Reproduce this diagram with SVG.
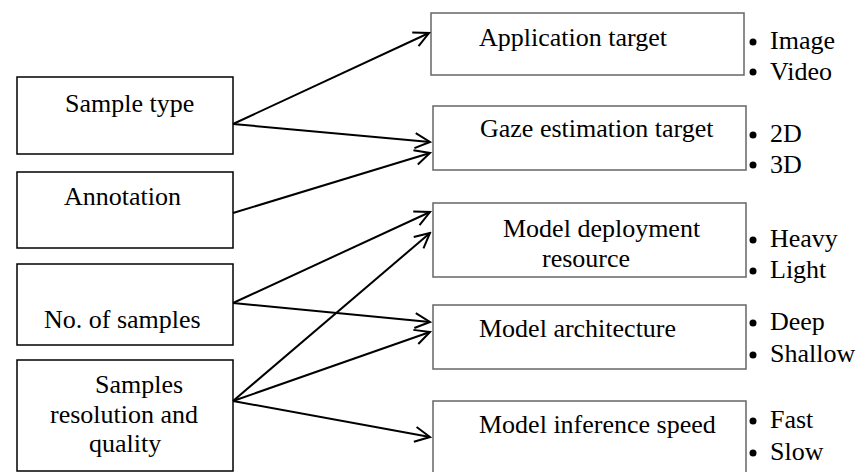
<svg xmlns="http://www.w3.org/2000/svg" width="858" height="472" viewBox="0 0 858 472" font-family="'Liberation Serif', 'DejaVu Serif', serif">
  <defs>
    <marker id="arrow" viewBox="-16 -9 18 18" refX="0" refY="0" markerWidth="18" markerHeight="18" markerUnits="userSpaceOnUse" orient="auto">
      <path d="M-15,-7.5 L0,0 L-15,7.5" fill="none" stroke="#000" stroke-width="2"/>
    </marker>
  </defs>
  <style>
    text { font-family: 'Liberation Serif', 'DejaVu Serif', serif; font-size: 26px; fill: #000; }
    .src { fill: #fff; stroke: #000; stroke-width: 1.5; }
    .dst { fill: #fff; stroke: #666; stroke-width: 1.5; }
    .link { stroke: #000; stroke-width: 2; fill: none; marker-end: url(#arrow); }
    .dot { fill: #000; }
  </style>
  <rect width="858" height="472" fill="#fff"/>

  <!-- input factors -->
  <g id="sample-type">
    <rect class="src" x="17" y="77" width="216" height="77"/>
    <text x="65" y="112">Sample type</text>
  </g>
  <g id="annotation">
    <rect class="src" x="17" y="172" width="216" height="76"/>
    <text x="64" y="205">Annotation</text>
  </g>
  <g id="num-samples">
    <rect class="src" x="17" y="264" width="216" height="81"/>
    <text x="44" y="328">No. of samples</text>
  </g>
  <g id="resolution-quality">
    <rect class="src" x="17" y="360" width="216" height="111"/>
    <text x="95" y="393">Samples</text>
    <text x="50" y="423">resolution and</text>
    <text x="89" y="452">quality</text>
  </g>

  <!-- affected aspects -->
  <g id="application-target">
    <rect class="dst" x="431" y="13" width="313" height="62"/>
    <text x="479" y="46">Application target</text>
    <circle class="dot" cx="753" cy="42" r="3.5"/>
    <text x="770" y="49">Image</text>
    <circle class="dot" cx="753" cy="72" r="3.5"/>
    <text x="770" y="80">Video</text>
  </g>
  <g id="gaze-target">
    <rect class="dst" x="433" y="106" width="313" height="64"/>
    <text x="480" y="137">Gaze estimation target</text>
    <circle class="dot" cx="753" cy="135" r="3.5"/>
    <text x="770" y="142">2D</text>
    <circle class="dot" cx="753" cy="165" r="3.5"/>
    <text x="770" y="173">3D</text>
  </g>
  <g id="deployment-resource">
    <rect class="dst" x="433" y="203" width="313" height="74"/>
    <text x="503" y="237">Model deployment</text>
    <text x="542" y="267">resource</text>
    <circle class="dot" cx="753" cy="240" r="3.5"/>
    <text x="770" y="247">Heavy</text>
    <circle class="dot" cx="753" cy="271" r="3.5"/>
    <text x="770" y="278">Light</text>
  </g>
  <g id="architecture">
    <rect class="dst" x="433" y="305" width="313" height="64"/>
    <text x="479" y="337">Model architecture</text>
    <circle class="dot" cx="753" cy="323" r="3.5"/>
    <text x="770" y="330">Deep</text>
    <circle class="dot" cx="753" cy="355" r="3.5"/>
    <text x="770" y="362">Shallow</text>
  </g>
  <g id="inference-speed">
    <rect class="dst" x="433" y="401" width="313" height="80"/>
    <text x="479" y="433">Model inference speed</text>
    <circle class="dot" cx="753" cy="421" r="3.5"/>
    <text x="770" y="428">Fast</text>
    <circle class="dot" cx="753" cy="453" r="3.5"/>
    <text x="770" y="460">Slow</text>
  </g>

  <!-- connectors -->
  <g id="connectors">
    <line class="link" x1="233" y1="124" x2="429" y2="33"/>
    <line class="link" x1="233" y1="124" x2="430" y2="142"/>
    <line class="link" x1="233" y1="213" x2="430" y2="153"/>
    <line class="link" x1="233" y1="303" x2="430" y2="212"/>
    <line class="link" x1="233" y1="303" x2="430" y2="322"/>
    <line class="link" x1="233" y1="401" x2="430" y2="233"/>
    <line class="link" x1="233" y1="401" x2="430" y2="332"/>
    <line class="link" x1="233" y1="401" x2="430" y2="437"/>
  </g>
</svg>
